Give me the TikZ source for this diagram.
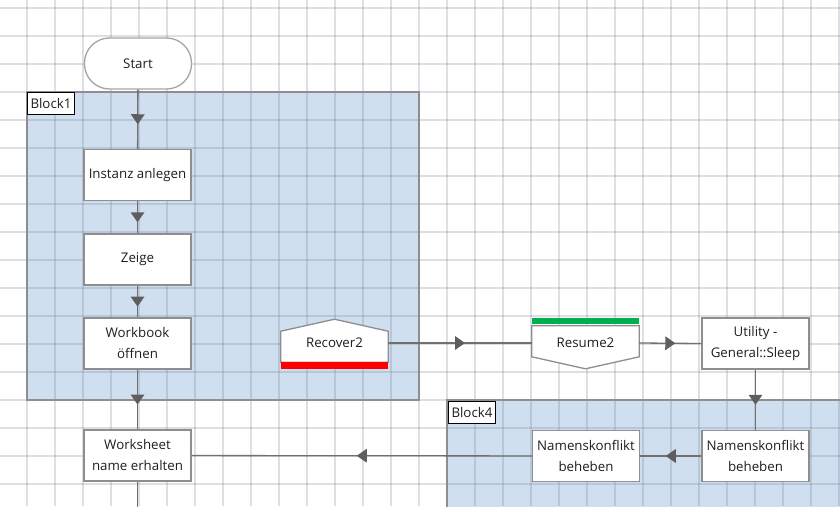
\documentclass[tikz,border=0pt]{standalone}
\usepackage{fontspec}
\setmainfont{Open Sans}
\usetikzlibrary{decorations.markings}
\definecolor{FlowGrid}{HTML}{6E7E90}
\definecolor{FlowBlock}{HTML}{CFDFF0}
\definecolor{FlowEdge}{HTML}{8E8E8E}
\definecolor{FlowLine}{HTML}{707070}
\definecolor{FlowTip}{HTML}{5E5E5E}
\definecolor{FlowRed}{HTML}{FF0000}
\definecolor{FlowGreen}{HTML}{00B050}
\definecolor{FlowText}{HTML}{1E1E1E}

\begin{document}
\begin{tikzpicture}[x=1pt,y=-1pt,
  every node/.style={font=\fontsize{13.3}{21}\selectfont,text=FlowText},
  stepbox/.style={draw=FlowEdge,line width=1.3pt,fill=white,minimum width=107pt,minimum height=51pt,align=center,inner sep=0pt},
  startbox/.style={stepbox,draw=FlowEdge!80,rounded corners=25pt},
  textbox/.style={minimum width=107pt,align=center,inner sep=0pt},
  blocktag/.style={draw=black,line width=1pt,fill=white,minimum height=22pt,inner xsep=3pt,inner ysep=0pt,anchor=north west},
  flowline/.style={draw=FlowLine,line width=1.3pt},
  flow/.style={flowline,postaction={decorate},decoration={markings,mark=at position 0.5 with {\fill[FlowTip] (5,0) -- (-5,7) -- (-5,-7) -- cycle;}}}]
\path[use as bounding box] (0,0) rectangle (840,506);
\fill[white] (0,0) rectangle (840,506);
\fill[FlowBlock] (27,92) rectangle (419,400);
\fill[FlowBlock] (447,400) rectangle (846,512);
\foreach \gx in {27,55,...,839}
  \draw[FlowGrid,opacity=0.24,line width=1.1pt] (\gx,0) -- (\gx,506);
\foreach \gy in {8,36,...,500}
  \draw[FlowGrid,opacity=0.24,line width=1.1pt] (0,\gy) -- (840,\gy);
\draw[FlowEdge,line width=1.2pt] (27,92) rectangle (419,400);
\draw[FlowEdge,line width=1.2pt] (846,400) -- (447,400) -- (447,512);
\node[blocktag] (tag1) at (27,92) {Block1};
\node[blocktag] (tag4) at (448,401) {Block4};

\node[startbox] (start) at (138,63.5) {Start};
\node[stepbox] (inst) at (137.5,175) {Instanz anlegen};
\node[stepbox] (zeige) at (137.5,259.5) {Zeige};
\node[stepbox] (wbook) at (137.5,343.5) {Workbook\\öffnen};
\node[stepbox] (wsheet) at (137.5,455.5) {Worksheet\\name erhalten};
\coordinate (wsend) at (137.5,512);

\node[textbox,minimum height=38pt] (rec) at (334.5,343) {};
\filldraw[draw=FlowEdge,fill=white,line width=1.3pt] (rec.south west) -- ([yshift=31pt]rec.south west) -- ([yshift=43pt]rec.south) -- ([yshift=31pt]rec.south east) -- (rec.south east) -- cycle;
\fill[FlowRed] (rec.south west) rectangle ([yshift=-7pt]rec.south east);
\node[textbox] at (rec) {Recover2};

\node[textbox,minimum height=34pt] (res) at (585.5,343) {};
\filldraw[draw=FlowEdge,fill=white,line width=1.3pt] (res.north west) -- ([yshift=-31pt]res.north west) -- ([yshift=-43pt]res.north) -- ([yshift=-31pt]res.north east) -- (res.north east) -- cycle;
\fill[FlowGreen] ([yshift=2pt]res.north west) rectangle ([yshift=8pt]res.north east);
\node[textbox] at (res) {Resume2};

\node[stepbox] (sleep) at (755.5,343.5) {Utility -\\General::Sleep};
\node[stepbox] (nkright) at (755.5,456) {Namenskonflikt\\beheben};
\node[stepbox] (nkleft) at (586,456) {Namenskonflikt\\beheben};

\draw[flow] (start) -- (inst);
\draw[flow] (inst) -- (zeige);
\draw[flow] (zeige) -- (wbook);
\draw[flow] (wbook) -- (wsheet);
\draw[flowline] (wsheet) -- (wsend);
\draw[flow] (rec.east) -- (res.west);
\draw[flow] (res.east) -- (sleep.west);
\draw[flow] (sleep) -- (nkright);
\draw[flow] (nkright) -- (nkleft);
\draw[flow] (nkleft) -- (wsheet);
\end{tikzpicture}
\end{document}
